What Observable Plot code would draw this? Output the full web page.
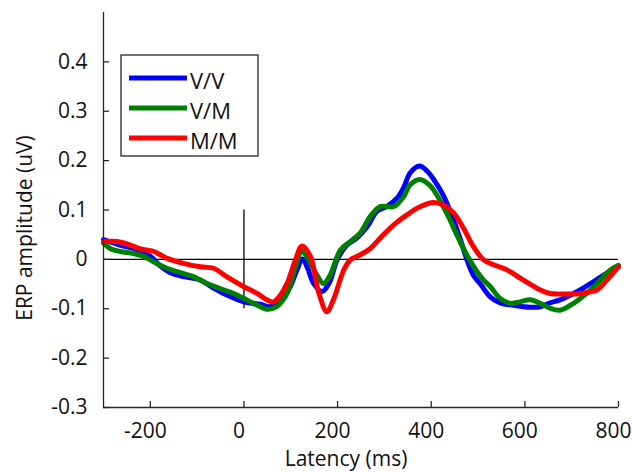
<!DOCTYPE html>
<html>
<head>
<meta charset="utf-8">
<script src="https://cdn.jsdelivr.net/npm/d3@7"></script>
<script src="https://cdn.jsdelivr.net/npm/@observablehq/plot@0.6"></script>
<style>
  html, body { margin: 0; padding: 0; background: #fff; }
  #chart { position: relative; width: 632px; height: 472px; }
</style>
</head>
<body>
<div id="chart"></div>
<script>
// Grand-average ERP waveforms for the three conditions (latency in ms, amplitude in uV)
const conditions = ["V/V", "V/M", "M/M"];
const colors = ["#0000ff", "#008000", "#ff0000"];

const latencyVV = [-300, -265, -236, -200, -179, -157, -129, -93, -65, -37, 0, 35, 56, 78, 99, 113, 125, 136, 149, 167, 182, 199, 220, 241, 263, 284, 305, 327, 341, 355, 375, 392, 408, 425, 441, 462, 476, 490, 505, 526, 547, 576, 611, 633, 654, 675, 718, 747, 775, 800];
const ampVV = [0.040, 0.029, 0.022, 0.006, -0.013, -0.027, -0.035, -0.042, -0.058, -0.072, -0.086, -0.091, -0.096, -0.086, -0.055, -0.022, 0.001, -0.018, -0.049, -0.065, -0.048, -0.001, 0.029, 0.043, 0.066, 0.097, 0.107, 0.124, 0.145, 0.175, 0.189, 0.178, 0.158, 0.131, 0.096, 0.041, 0.000, -0.032, -0.050, -0.076, -0.088, -0.093, -0.097, -0.096, -0.088, -0.082, -0.062, -0.045, -0.028, -0.015];

const latencyVM = [-300, -286, -264, -236, -214, -193, -172, -143, -108, -79, -51, -22, 6, 35, 49, 70, 92, 110, 124, 138, 156, 170, 184, 206, 227, 248, 270, 291, 320, 341, 355, 375, 398, 433, 455, 476, 498, 512, 526, 547, 569, 590, 611, 633, 654, 675, 704, 732, 761, 782, 800];
const ampVM = [0.033, 0.022, 0.016, 0.012, 0.006, -0.005, -0.015, -0.025, -0.035, -0.049, -0.059, -0.069, -0.082, -0.096, -0.101, -0.096, -0.069, -0.015, 0.017, -0.001, -0.032, -0.049, -0.032, 0.019, 0.036, 0.053, 0.087, 0.107, 0.107, 0.127, 0.151, 0.162, 0.149, 0.094, 0.049, 0.009, -0.025, -0.042, -0.055, -0.079, -0.089, -0.086, -0.082, -0.089, -0.099, -0.103, -0.089, -0.069, -0.042, -0.022, -0.012];

const latencyMM = [-300, -271, -243, -221, -193, -164, -129, -93, -65, -37, -1, 28, 49, 63, 78, 92, 110, 124, 142, 159, 177, 191, 213, 227, 248, 270, 291, 320, 348, 377, 405, 426, 448, 469, 490, 512, 533, 554, 569, 590, 611, 633, 654, 683, 711, 732, 754, 775, 797, 800];
const ampMM = [0.036, 0.036, 0.029, 0.021, 0.016, 0.002, -0.008, -0.015, -0.018, -0.035, -0.055, -0.069, -0.082, -0.086, -0.072, -0.049, -0.001, 0.027, 0.006, -0.065, -0.106, -0.082, -0.022, -0.001, 0.009, 0.022, 0.043, 0.070, 0.090, 0.107, 0.115, 0.110, 0.094, 0.063, 0.026, -0.001, -0.011, -0.018, -0.025, -0.038, -0.050, -0.062, -0.069, -0.070, -0.070, -0.067, -0.062, -0.042, -0.018, -0.015];

const xTicks = [-200, 0, 200, 400, 600, 800];
const yTicks = [-0.3, -0.2, -0.1, 0, 0.1, 0.2, 0.3, 0.4];

const series = [
  [conditions[0], latencyVV, ampVV],
  [conditions[1], latencyVM, ampVM],
  [conditions[2], latencyMM, ampMM]
];
const rows = series.flatMap(([cond, xs, ys]) => xs.map((t, i) => ({cond, t, v: ys[i]})));

const axisColor = "#262626";
const textColor = "#111";
const font = "'Open Sans', sans-serif";

const svg = Plot.plot({
  width: 632,
  height: 472,
  marginLeft: 103,
  marginRight: 14,
  marginTop: 12,
  marginBottom: 65,
  style: {fontFamily: font, fontSize: "21px", color: textColor, background: "#fff"},
  x: {domain: [-300, 800], label: null},
  y: {domain: [-0.3, 0.5], label: null},
  color: {domain: conditions, range: colors},
  marks: [
    // baseline and stimulus onset marker
    Plot.ruleY([0], {stroke: "#000", strokeWidth: 1.3}),
    Plot.ruleX([0], {y1: -0.1, y2: 0.1, stroke: "#000", strokeWidth: 1.3}),
    // waveforms
    Plot.line(rows, {x: "t", y: "v", z: "cond", stroke: "cond", strokeWidth: 5, curve: "catmull-rom"}),
    // axis lines with inward ticks
    Plot.ruleX([-300], {stroke: axisColor, strokeWidth: 1.3}),
    Plot.ruleY([-0.3], {stroke: axisColor, strokeWidth: 1.3}),
    Plot.axisX(xTicks, {tickSize: -6, stroke: axisColor, strokeWidth: 1.3, tickFormat: () => "", label: null}),
    Plot.axisY(yTicks, {tickSize: -6, tickPadding: 22, stroke: axisColor, strokeWidth: 1.3, tickFormat: d => String(d), label: null}),
    // x tick labels and axis title
    Plot.text(xTicks, {x: d => d, frameAnchor: "bottom", lineAnchor: "top", dy: 16, dx: -5, text: d => String(d), fill: textColor}),
    Plot.text(["Latency (ms)"], {frameAnchor: "bottom", lineAnchor: "top", dx: -15, dy: 44, fill: textColor})
  ]
});

const root = d3.select(svg);

// vertical axis title
root.append("text")
  .attr("transform", "translate(24,228) rotate(-90)")
  .attr("text-anchor", "middle")
  .attr("dominant-baseline", "central")
  .attr("font-family", font).attr("font-size", 21).attr("fill", textColor)
  .text("ERP amplitude (uV)");

// legend box in the upper-left corner of the axes
const legend = root.append("g").attr("transform", "translate(121,55)");
legend.append("rect")
  .attr("width", 137).attr("height", 101)
  .attr("fill", "#fff").attr("stroke", axisColor).attr("stroke-width", 1.3);
conditions.forEach((name, i) => {
  const yy = 23 + i * 30;
  legend.append("line")
    .attr("x1", 8).attr("x2", 66).attr("y1", yy).attr("y2", yy)
    .attr("stroke", colors[i]).attr("stroke-width", 5);
  legend.append("text")
    .attr("x", 69).attr("y", yy + 1.5)
    .attr("text-anchor", "start")
    .attr("dominant-baseline", "central")
    .attr("font-family", font).attr("font-size", 22).attr("fill", textColor)
    .text(name);
});

document.getElementById("chart").appendChild(svg);
</script>
</body>
</html>
